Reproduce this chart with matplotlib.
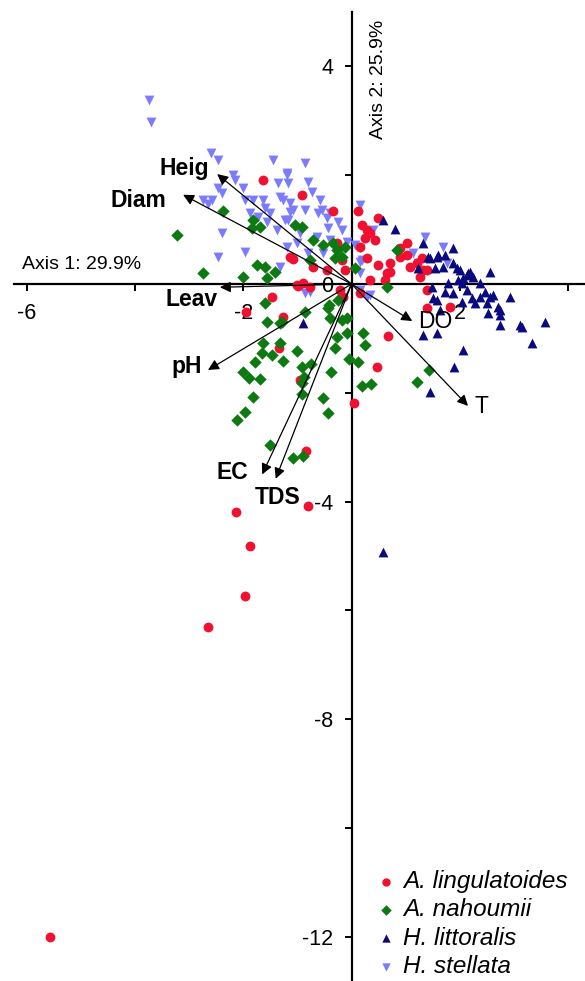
import numpy as np
import matplotlib
matplotlib.use("Agg")
import matplotlib.pyplot as plt

plt.rcParams['font.family'] = ['Liberation Sans', 'DejaVu Sans']

# PCA scores
ling_x = [-5.56, -2.65, -1.96, -1.87, -2.13, -0.80, -0.84, 0.67, 0.47, 0.05, -1.34, -0.95,
          -1.08, -1.47, -1.26, -0.99, -1.63, -1.95, -0.91, -0.34, 0.12, 0.49, 0.29, 0.71,
          0.89, 1.08, 1.26, 1.39, 0.65, 1.02, -0.71, -0.27, -0.18, -1.01, -0.77, -0.21,
          1.39, 0.34, 0.16, 0.29, 0.49, 0.71, 0.62, 0.34, -0.89, -0.45, -0.12, -0.16,
          0.16, 0.89, 1.02, 1.21, 1.32, 1.39, 1.82, 1.30, -1.13, 0.19, 0.43, 0.25]
ling_y = [-12.0, -6.31, -5.74, -4.82, -4.19, -4.08, -3.07, -0.96, -1.53, -2.19, -1.18, -1.76,
          0.46, -0.24, -0.61, -0.04, 1.91, -0.51, 1.64, 1.34, 1.34, 1.21, 0.99, 0.39,
          0.66, 0.31, 0.13, 0.26, 0.20, 0.53, 0.31, 0.75, 0.44, -0.02, -0.06, -0.11,
          -0.11, 0.94, 0.68, 0.48, 0.35, 0.22, 0.07, 0.07, 0.02, 0.26, 0.26, -0.24,
          -0.17, 0.50, 0.75, 0.39, 0.26, -0.44, -0.42, 0.48, 0.50, 1.08, 0.81, 0.85]

nah_x = [-3.22, -2.37, -2.74, -2.00, -1.82, -1.84, -1.69, -1.74, -1.60, -1.41, -1.56, -1.04,
         -1.60, -1.56, -1.28, -0.34, -0.27, -0.18, -0.30, -0.53, -0.77, 0.84, 0.65, 0.06,
         -0.86, -0.43, -0.25, -0.40, -0.08, -1.32, -0.18, 0.21, 0.25, -0.08, -0.27, -0.30,
         -0.05, 0.12, -1.63, -1.65, -1.32, -1.47, -1.78, -1.26, -1.01, -0.91, -0.75, -0.38,
         -2.00, -1.89, -1.69, -0.88, -0.91, -1.82, -0.91, -0.53, 0.19, 0.36, -1.96, -2.11,
         -0.43, -1.50, -1.08, -0.89, 1.21, 1.43, -0.42, -0.71, -0.12, -0.91]
nah_y = [0.90, 1.34, 0.20, 0.13, 1.18, 1.03, 1.05, 0.35, 0.31, 0.22, 0.11, 1.08,
         -0.35, -0.70, -0.70, 0.75, 0.63, 0.50, 0.48, 0.72, 0.44, 0.63, -0.06, 0.29,
         -0.51, -0.44, -0.29, -0.63, -0.63, -0.72, -0.66, -0.90, -1.12, -0.90, -0.97, -1.18,
         -1.38, -1.43, -1.08, -1.27, -1.08, -1.31, -1.43, -1.42, -1.23, -1.53, -1.47, -1.62,
         -1.62, -1.73, -1.75, -1.71, -1.82, -2.08, -2.02, -2.10, -1.88, -1.84, -2.35, -2.50,
         -2.37, -2.96, -3.20, -3.16, -1.80, -1.58, -0.39, 0.81, 0.68, 1.05]

lit_x = [0.58, 0.80, 1.32, 1.41, 1.58, 1.73, 1.87, 1.23, 1.54, 1.69, 1.87, 2.00,
         2.15, 2.24, 2.37, 2.56, 2.04, 1.78, 1.49, 1.50, 1.87, 2.13, 2.37, 2.46,
         2.61, 2.50, 2.52, 2.70, 2.74, 2.92, 3.57, 3.15, 1.63, 2.04, 2.22, 2.74,
         2.19, 2.06, 1.58, 2.28, 2.74, 3.11, 1.58, 2.06, 1.89, 1.45, 3.33, 0.58,
         -0.89, 1.32, 1.45, 1.60, 1.95, 2.13, 1.97, 1.73, 2.56]
lit_y = [1.18, 1.01, 0.75, 0.50, 0.50, 0.53, 0.66, 0.29, 0.29, 0.31, 0.39, 0.26,
         0.20, 0.13, 0.02, 0.22, 0.02, 0.02, -0.06, -0.26, -0.17, -0.11, -0.24, -0.15,
         -0.20, -0.35, -0.53, -0.42, -0.57, -0.24, -0.70, -0.79, -0.48, -0.33, -0.26, -0.48,
         0.22, 0.11, -0.29, -0.35, -0.75, -0.75, -0.90, -1.21, -1.53, -1.99, -1.08, -4.93,
         -0.72, -0.94, 0.48, 0.53, 0.29, 0.17, 0.07, -0.15, -0.24]

stel_x = [-3.74, -3.70, -2.59, -2.46, -2.19, -2.15, -1.45, -1.19, -1.36, -1.17, -2.74, -2.57,
          -2.65, -2.46, -2.39, -2.00, -1.96, -1.82, -1.63, -1.60, -1.50, -1.87, -1.73, -1.56,
          -1.26, -1.13, -1.08, -1.23, -1.37, -2.39, -1.96, -2.46, -1.32, -1.19, -1.01, -1.17,
          -1.13, -0.86, -0.80, -0.73, -1.32, -0.58, -0.86, -0.62, 0.16, -1.19, -0.54, -0.40,
          -0.25, -0.18, -0.43, -0.95, -0.64, -0.40, -0.08, -0.80, -0.53, 0.40, 0.16, 0.16,
          1.36, 1.69, 1.13, 1.23, -0.86, 0.16, 0.34, 1.76, -0.45, 0.06, 0.19, 0.16,
          -0.77, 0.29]
stel_y = [3.38, 2.98, 2.41, 2.28, 2.00, 1.91, 2.28, 2.00, 1.86, 1.86, 1.54, 1.54,
          1.47, 1.76, 1.67, 1.76, 1.54, 1.54, 1.54, 1.40, 1.31, 1.31, 1.23, 1.14,
          1.54, 1.49, 1.36, 1.18, 0.99, 0.94, 0.59, 0.50, 0.31, 0.68, 0.75, 1.18,
          1.32, 2.22, 1.88, 1.69, 1.60, 1.54, 1.36, 1.31, 1.45, 2.04, 1.36, 1.31,
          1.14, 0.99, 1.03, 0.94, 0.86, 0.81, 0.77, 0.57, 0.57, 0.99, 0.66, 0.40,
          0.86, 0.68, 0.57, 0.39, -0.17, -0.11, -0.20, 0.39, 1.21, 0.72, 0.44, 0.20,
          -0.15, -0.24]

# environmental vectors
var_names = ['Heig', 'Diam', 'Leav', 'pH', 'EC', 'TDS', 'DO', 'T']
var_x = [-2.48, -3.11, -2.43, -2.65, -1.65, -1.40, 1.12, 2.15]
var_y = [2.02, 1.64, -0.06, -1.58, -3.50, -3.58, -0.68, -2.24]
lab_x = [-3.09, -3.94, -2.96, -3.04, -2.20, -1.37, 1.54, 2.39]
lab_y = [2.12, 1.54, -0.28, -1.52, -3.47, -3.92, -0.68, -2.26]
lab_bold = [True, True, True, True, True, True, False, False]

fig = plt.figure(figsize=(5.85, 9.81), dpi=100)
ax = fig.add_axes([0, 0, 1, 1])
ax.set_xlim(-6.49, 4.31)
ax.set_ylim(-12.81, 5.22)

ms = 50
h4 = ax.scatter(stel_x, stel_y, s=ms, marker='v', color='#7b7bff', linewidths=0, zorder=2)
h1 = ax.scatter(ling_x, ling_y, s=ms, marker='o', color='#f0102f', linewidths=0, zorder=3)
h2 = ax.scatter(nah_x, nah_y, s=ms * 0.8, marker='D', color='#0c7a10', linewidths=0, zorder=3)
h3 = ax.scatter(lit_x, lit_y, s=ms, marker='^', color='#0a0a80', linewidths=0, zorder=3)

for name, vx, vy, tx, ty, b in zip(var_names, var_x, var_y, lab_x, lab_y, lab_bold):
    ax.annotate('', xy=(vx, vy), xytext=(0, 0),
                arrowprops=dict(arrowstyle='-|>', color='black', lw=0.9,
                                mutation_scale=16, shrinkA=0, shrinkB=0), zorder=4)
    ax.text(tx, ty, name, fontsize=16.5, fontweight='bold' if b else 'normal',
            ha='center', va='center', zorder=5)

# axes through the origin
for s in ['top', 'right']:
    ax.spines[s].set_visible(False)
ax.spines['left'].set_position(('data', 0))
ax.spines['bottom'].set_position(('data', 0))
ax.spines['left'].set_bounds(-12.81, 5.0)
ax.spines['bottom'].set_bounds(-6.24, 4.31)
ax.spines['left'].set_linewidth(1.6)
ax.spines['bottom'].set_linewidth(1.6)
ax.spines['left'].set_zorder(1)
ax.spines['bottom'].set_zorder(1)

xt = [-6, -4, -2, 0, 2, 4]
yt = [4, 2, 0, -2, -4, -6, -8, -10, -12]
ax.set_xticks(xt)
ax.set_xticklabels(['-6', '', '-2', '', '2', ''])
ax.set_yticks(yt)
ax.set_yticklabels(['4', '', '0', '', '-4', '', '-8', '', '-12'])
ax.tick_params(axis='both', direction='out', length=5, width=1.4, labelsize=15.5)
ax.tick_params(axis='x', pad=9)
ax.tick_params(axis='y', pad=8)

ax.text(-6.08, 0.35, 'Axis 1: 29.9%', fontsize=14, ha='left', va='center')
ax.text(0.49, 3.77, 'Axis 2: 25.9%', fontsize=14, rotation=90, ha='center', va='center')

leg = ax.legend([h1, h2, h3, h4],
                ['A. lingulatoides', 'A. nahoumii', 'H. littoralis', 'H. stellata'],
                loc='upper left', bbox_to_anchor=(0.647, 0.113), frameon=False,
                prop=dict(family='Liberation Sans', style='italic', size=17.5),
                handlelength=0.6, handletextpad=0.4, labelspacing=0.22,
                borderaxespad=0, borderpad=0, markerscale=0.85)

fig.savefig('out.png', dpi=100)
